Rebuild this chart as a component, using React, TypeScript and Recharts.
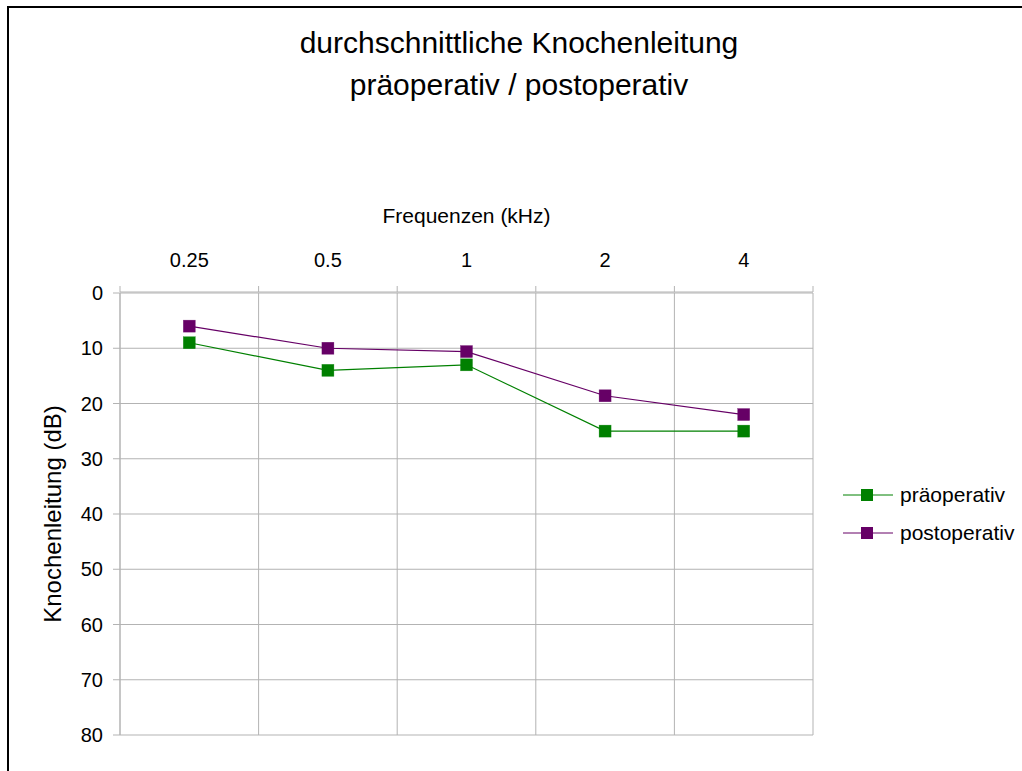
import React from 'react';
import {
  LineChart,
  Line,
  XAxis,
  YAxis,
  CartesianGrid,
  Legend,
} from 'recharts';

// Frequency categories (kHz) and mean bone-conduction thresholds (dB)
const frequencies = ['0.25', '0.5', '1', '2', '4'];
const preOp = [9, 14, 13, 25, 25];
const postOp = [6, 10, 10.6, 18.6, 22];
const dbTicks = [0, 10, 20, 30, 40, 50, 60, 70, 80];
const seriesNames = ['präoperativ', 'postoperativ'];

const titleLines = ['durchschnittliche Knochenleitung', 'präoperativ / postoperativ'];

// each category sits in the middle of its own band on a 0..n numeric axis
const data = frequencies.map((f, i) => ({
  freq: f,
  pos: i + 0.5,
  pre: preOp[i],
  post: postOp[i],
}));
const centerTicks = data.map((d) => d.pos);
const bandEdges = [0, ...frequencies.map((_, i) => i + 1)];

const FONT = '"Liberation Sans", Arial, sans-serif';
const GRID = '#b3b3b3';
const GREEN = '#008000';
const PURPLE = '#660066';

const squareDot = (color: string) => (props: any) => {
  const { cx, cy, index } = props;
  if (cx == null || cy == null) return <g key={`n-${index}`} />;
  return (
    <rect
      key={`sq-${color}-${index}`}
      x={cx - 6}
      y={cy - 6}
      width={12}
      height={12}
      fill={color}
      stroke={color}
      strokeOpacity={0.6}
      strokeWidth={0.5}
    />
  );
};

const renderLegend = (props: any) => {
  const items = [...(props.payload || [])].sort(
    (a: any, b: any) => seriesNames.indexOf(a.value) - seriesNames.indexOf(b.value)
  );
  return (
    <div style={{ fontFamily: FONT }}>
      {items.map((entry: any) => (
        <div
          key={entry.value}
          style={{ display: 'flex', alignItems: 'center', height: 38 }}
        >
          <svg width={50} height={14} style={{ display: 'block' }}>
            <line x1={0} y1={7} x2={50} y2={7} stroke={entry.color} strokeWidth={1} />
            <rect x={18} y={1} width={12} height={12} fill={entry.color} />
          </svg>
          <span style={{ marginLeft: 7, fontSize: 21, color: '#000' }}>{entry.value}</span>
        </div>
      ))}
    </div>
  );
};

const yLabel = (props: any) => {
  const { viewBox } = props;
  const x = viewBox.x + 61;
  const y = viewBox.y + viewBox.height / 2;
  return (
    <text
      x={x}
      y={y}
      transform={`rotate(-90, ${x}, ${y})`}
      textAnchor="middle"
      fontSize={24}
      fontFamily={FONT}
      fill="#000"
    >
      Knochenleitung (dB)
    </text>
  );
};

// vertical grid lines sit on the category boundaries, not the category centres
const bandBoundaries = (props: any) => {
  const { offset } = props;
  const n = frequencies.length;
  return bandEdges.map((v) => offset.left + (v * offset.width) / n);
};

export default function App() {
  return (
    <div
      style={{
        position: 'absolute',
        left: 0,
        top: 0,
        width: 1022,
        height: 771,
        overflow: 'hidden',
        background: '#fff',
        fontFamily: FONT,
      }}
    >
      <div
        style={{
          position: 'absolute',
          left: 7,
          top: 6,
          width: 1013,
          height: 763,
          borderTop: '2px solid #000',
          borderLeft: '2px solid #000',
        }}
      />
      <div
        style={{
          position: 'absolute',
          left: 219,
          top: 22,
          width: 600,
          textAlign: 'center',
          fontSize: 30,
          lineHeight: '42px',
          color: '#000',
        }}
      >
        {titleLines.map((t) => (
          <div key={t}>{t}</div>
        ))}
      </div>
      <div style={{ position: 'absolute', left: 0, top: 0 }}>
        <LineChart
          width={1022}
          height={771}
          data={data}
          margin={{ top: 291, right: 209, bottom: 36, left: 0 }}
        >
          <CartesianGrid
            xAxisId="grid"
            stroke={GRID}
            strokeWidth={1}
            verticalCoordinatesGenerator={bandBoundaries}
          />
          <XAxis
            xAxisId="grid"
            dataKey="pos"
            type="number"
            orientation="top"
            domain={[0, frequencies.length]}
            ticks={bandEdges}
            interval={0}
            height={1}
            tickFormatter={() => ''}
            tickSize={6}
            stroke={GRID}
          />
          <XAxis
            xAxisId="cat"
            dataKey="pos"
            type="number"
            orientation="top"
            domain={[0, frequencies.length]}
            ticks={centerTicks}
            interval={0}
            height={1}
            axisLine={false}
            tickLine={false}
            tickSize={0}
            tickMargin={26}
            tickFormatter={(v: number) => frequencies[Math.floor(v)]}
            tick={{ fontSize: 20, fill: '#000', fontFamily: FONT }}
            label={{
              value: 'Frequenzen (kHz)',
              position: 'top',
              offset: 69,
              fontSize: 21,
              fill: '#000',
              fontFamily: FONT,
            }}
          />
          <YAxis
            type="number"
            domain={[0, 80]}
            ticks={dbTicks}
            interval={0}
            reversed
            width={120}
            tickSize={7}
            tickMargin={10}
            stroke={GRID}
            tick={{ fontSize: 20, fill: '#000', fontFamily: FONT }}
            label={yLabel}
          />
          <Legend
            layout="horizontal"
            align="center"
            verticalAlign="middle"
            content={renderLegend}
            wrapperStyle={{ left: 843, top: 476, width: 179 }}
          />
          <Line
            xAxisId="cat"
            type="linear"
            dataKey="pre"
            name={seriesNames[0]}
            stroke={GREEN}
            strokeWidth={1.2}
            dot={squareDot(GREEN)}
            activeDot={false}
            isAnimationActive={false}
          />
          <Line
            xAxisId="cat"
            type="linear"
            dataKey="post"
            name={seriesNames[1]}
            stroke={PURPLE}
            strokeWidth={1.2}
            dot={squareDot(PURPLE)}
            activeDot={false}
            isAnimationActive={false}
          />
        </LineChart>
      </div>
    </div>
  );
}
